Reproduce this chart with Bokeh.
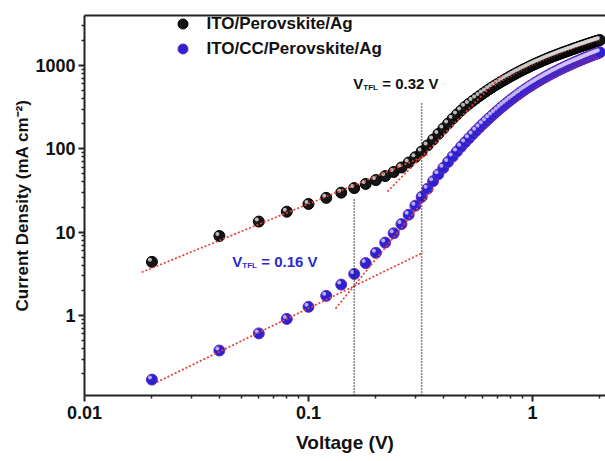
import numpy as np
from bokeh.plotting import figure
from bokeh.models import (LogAxis, Legend, LegendItem, Label, FixedTicker,
                          PrintfTickFormatter, Range1d)
from bokeh.embed import file_html
from bokeh.resources import INLINE

# ---- data -----------------------------------------------------------------
# voltage sweep, 0.02 V steps
voltage = np.round(np.arange(1, 101) * 0.02, 2)

# ITO/Perovskite/Ag, current density (mA cm^-2)
j_ref = [
    4.4, 9.0, 13.4, 17.6, 21.8, 25.8, 29.8, 33.8, 37.9, 42.2,
    47.1, 52.7, 59.7, 68.5, 79.4, 93.0, 110, 129, 151, 175,
    201, 229, 258, 288, 319, 346, 374, 402, 431, 460,
    489, 518, 547, 576, 603, 632, 660, 688, 716, 744,
    772, 800, 827, 854, 881, 907, 933, 959, 985, 1011,
    1036, 1061, 1085, 1109, 1134, 1157, 1180, 1204, 1227, 1251,
    1273, 1295, 1316, 1337, 1358, 1379, 1400, 1421, 1441, 1461,
    1481, 1501, 1521, 1541, 1561, 1581, 1601, 1621, 1640, 1659,
    1678, 1697, 1716, 1735, 1754, 1772, 1790, 1808, 1826, 1844,
    1862, 1880, 1898, 1915, 1932, 1949, 1966, 1983, 2000, 2017,
]

# ITO/CC/Perovskite/Ag, current density (mA cm^-2)
j_cc = [
    0.17, 0.38, 0.61, 0.91, 1.27, 1.72, 2.35, 3.15, 4.25, 5.65,
    7.5, 9.7, 12.5, 16.2, 20.8, 26.5, 33.2, 40.9, 49.5, 59.1,
    69.6, 80.9, 93.0, 105.9, 119.5, 133.7, 148.7, 164.4, 180.7, 197.5,
    214.9, 232.7, 251.1, 269.8, 288.8, 308.1, 327.7, 347.5, 367.5, 387.6,
    407.7, 428.1, 448.5, 469.0, 489.5, 509.9, 530.1, 550.3, 570.5, 590.5,
    610.4, 630.1, 649.8, 669.2, 688.7, 708.0, 727.3, 746.6, 765.7, 784.8,
    803.8, 822.7, 841.3, 859.7, 877.9, 895.9, 913.8, 931.4, 948.9, 966.1,
    983.2, 1000.6, 1017.8, 1034.8, 1051.7, 1068.8, 1085.7, 1102.3, 1118.7, 1135.0,
    1151.3, 1167.3, 1183.5, 1199.5, 1215.3, 1231.1, 1246.7, 1262.3, 1277.6, 1293.1,
    1308.1, 1323.3, 1338.0, 1352.9, 1367.4, 1382.0, 1396.4, 1410.9, 1425.3, 1439.8,
]

# power-law fit segments (end points in V, mA cm^-2)
fit_ref_ohmic_v, fit_ref_ohmic_j = [0.018, 0.34], [3.3, 84]
fit_ref_tfl_v, fit_ref_tfl_j = [0.225, 0.73], [30.7, 760]
fit_cc_ohmic_v, fit_cc_ohmic_j = [0.021, 0.325], [0.158, 5.7]
fit_cc_tfl_v, fit_cc_tfl_j = [0.132, 0.36], [1.21, 33]

# trap-filled limit voltages and the height of their markers
v_tfl = [0.32, 0.16]
v_tfl_top = [350, 26]
v_tfl_color = ["#111111", "#2a2ad0"]

legend_labels = ["ITO/Perovskite/Ag", "ITO/CC/Perovskite/Ag"]

x_ticks = [0.01, 0.1, 1]
y_ticks = [1, 10, 100, 1000]

# ---- figure ---------------------------------------------------------------
FONT = "Liberation Sans"
W, H = 605, 461
L, R, T, B = 84, 0, 15, 66
x_lo, x_hi = 0.01, 2.118
y_lo, y_hi = 0.1096, 3981

p = figure(width=W, height=H, x_axis_type="log", y_axis_type="log",
           x_range=Range1d(x_lo, x_hi), y_range=Range1d(y_lo, y_hi),
           output_backend="svg", toolbar_location=None,
           min_border_left=L, min_border_right=R,
           min_border_top=T, min_border_bottom=B)
p.outline_line_color = None
p.xgrid.visible = False
p.ygrid.visible = False
p.background_fill_color = "white"
p.border_fill_color = "white"

x_minor = [m * d for d in (0.01, 0.1, 1) for m in range(2, 10)]
y_minor = [m * d for d in (0.1, 1, 10, 100, 1000) for m in range(2, 10)]

p.xaxis.ticker = FixedTicker(ticks=x_ticks, minor_ticks=x_minor)
p.yaxis.ticker = FixedTicker(ticks=y_ticks, minor_ticks=y_minor)
for ax in (p.xaxis, p.yaxis):
    ax.formatter = PrintfTickFormatter(format="%g")
    ax.axis_line_width = 2
    ax.axis_line_color = "#222222"
    ax.major_tick_line_width = 2
    ax.major_tick_line_color = "#222222"
    ax.minor_tick_line_width = 1.5
    ax.minor_tick_line_color = "#222222"
    ax.major_tick_out = 6
    ax.major_tick_in = 0
    ax.minor_tick_out = 3
    ax.minor_tick_in = 0
    ax.major_label_text_font = FONT
    ax.major_label_text_font_style = "bold"
    ax.major_label_text_font_size = "18px"
    ax.major_label_text_color = "#111111"
    ax.axis_label_text_font = FONT
    ax.axis_label_text_font_style = "bold"
    ax.axis_label_text_color = "#111111"

p.xaxis.axis_label = "Voltage (V)"
p.xaxis.axis_label_text_font_size = "19px"
p.xaxis.major_label_standoff = 4
p.xaxis.axis_label_standoff = 10
p.yaxis.axis_label = "Current Density (mA cm\u207b\u00b2)"
p.yaxis.axis_label_text_font_size = "17px"
p.yaxis.major_label_standoff = 3
p.yaxis.axis_label_standoff = 0

# frame line along the top
top = LogAxis(ticker=FixedTicker(ticks=[]), axis_line_width=2,
              axis_line_color="#222222", major_label_text_font_size="0px",
              major_tick_line_color=None, minor_tick_line_color=None)
p.add_layout(top, "above")

# shift (in data factors) used for the specular spot on each sphere
frame_w, frame_h = W - L - R, H - T - B
px_x = frame_w / (np.log10(x_hi) - np.log10(x_lo))
px_y = frame_h / (np.log10(y_hi) - np.log10(y_lo))
hx = 10 ** (-2.0 / px_x)
hy = 10 ** (2.0 / px_y)


def spheres(v, j, base, rim, spot):
    v = np.asarray(v)
    j = np.asarray(j)
    r = p.scatter(v, j, size=11, fill_color=base, line_color=rim, line_width=1)
    p.scatter(v * hx, j * hy, size=4, fill_color=spot, line_color=None,
              fill_alpha=0.85)
    return r


r_ref = spheres(voltage, j_ref, "#151515", "#000000", "#d8d8d8")
r_cc = spheres(voltage, j_cc, "#2a22d4", "#6a2cb0", "#cfc6ff")

# fitted lines
fit_style = dict(line_color="#e8403a", line_dash="2 2", line_width=1.7)
p.line(fit_ref_ohmic_v, fit_ref_ohmic_j, **fit_style)
p.line(fit_ref_tfl_v, fit_ref_tfl_j, **fit_style)
p.line(fit_cc_ohmic_v, fit_cc_ohmic_j, **fit_style)
p.line(fit_cc_tfl_v, fit_cc_tfl_j, **fit_style)
p.line(voltage[33:], j_ref[33:], line_color="#e8403a", line_dash="1 2",
       line_width=1.2)

# V_TFL markers
for v, jt in zip(v_tfl, v_tfl_top):
    p.line([v, v], [y_lo, jt], line_color="#111111", line_dash="1 2",
           line_width=1.5)

# V_TFL annotations
ann_pos = [(0.1584, 608), (0.0457, 4.45)]
for v, (ax_, ay_), col in zip(v_tfl, ann_pos, v_tfl_color):
    common = dict(text_font=FONT, text_font_style="bold", text_color=col,
                  text_baseline="middle", text_align="left")
    p.add_layout(Label(x=ax_, y=ay_, text="V", text_font_size="15px", **common))
    p.add_layout(Label(x=ax_, y=ay_, text="TFL", x_offset=10, y_offset=-4,
                       text_font_size="8px", **common))
    p.add_layout(Label(x=ax_, y=ay_, text=f"= {v:.2f} V", x_offset=29,
                       text_font_size="15px", **common))

legend = Legend(items=[LegendItem(label=legend_labels[0], renderers=[r_ref]),
                       LegendItem(label=legend_labels[1], renderers=[r_cc])],
                location=(85.5, 334), padding=0, margin=0, spacing=0,
                glyph_width=25, glyph_height=25, label_standoff=12,
                label_text_font=FONT, label_text_font_style="bold",
                label_text_font_size="17px", label_text_color="#111111",
                label_text_baseline="middle",
                border_line_color=None, background_fill_alpha=0)
p.add_layout(legend)

open("out.html", "w").write(file_html(p, INLINE))
